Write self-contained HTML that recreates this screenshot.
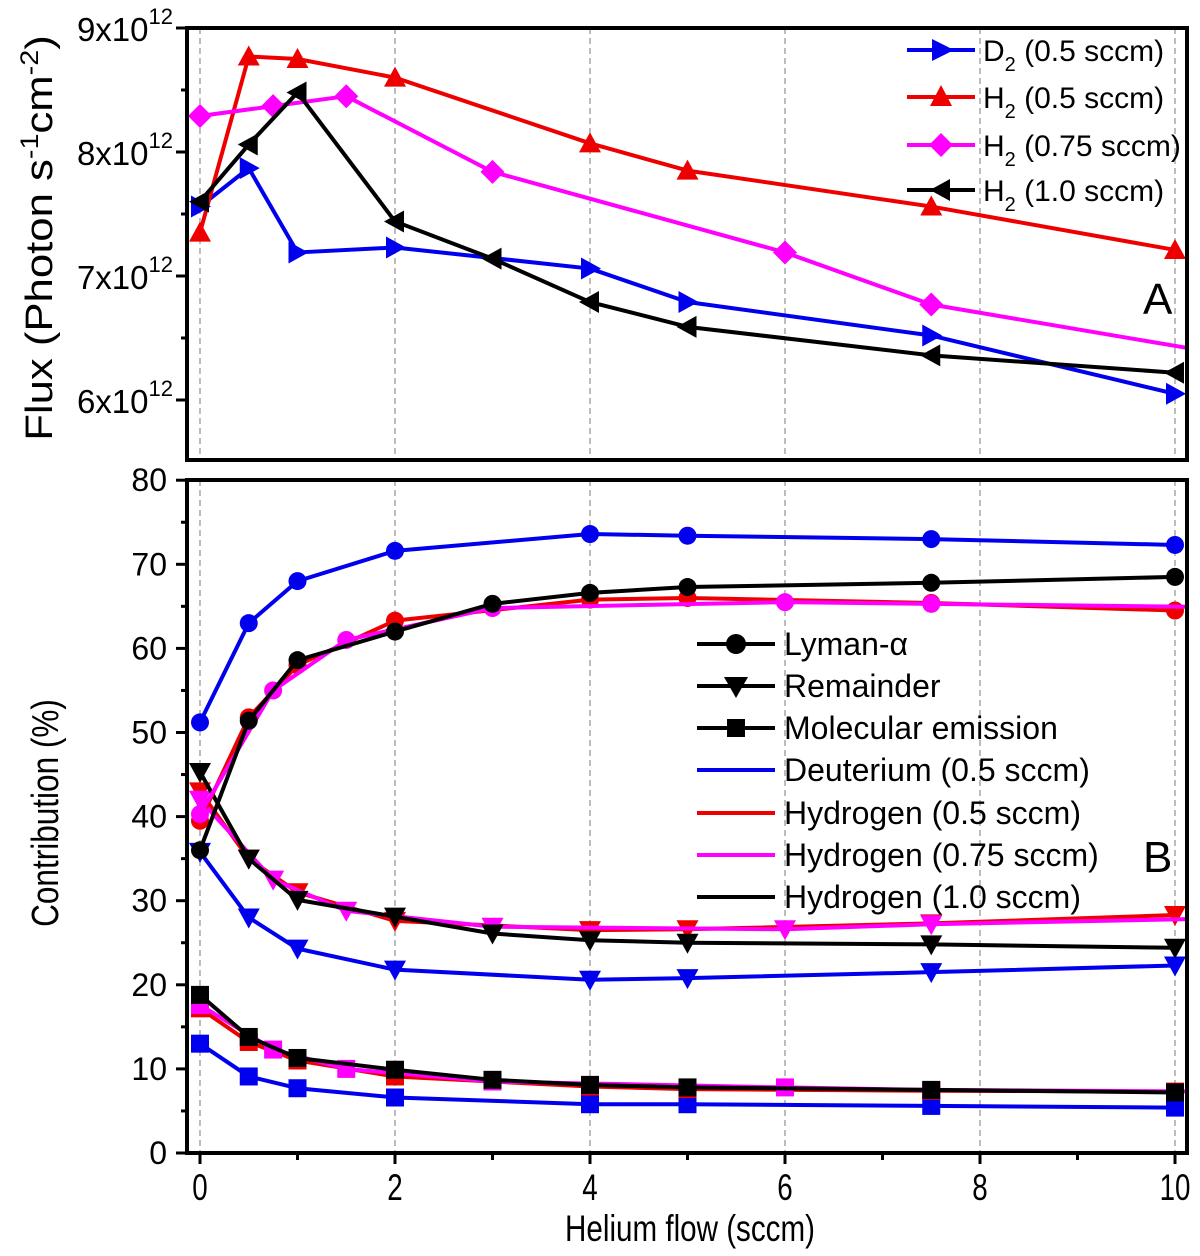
<!DOCTYPE html>
<html><head><meta charset="utf-8"><style>
html,body{margin:0;padding:0;background:#fff;}
svg{display:block;font-family:"Liberation Sans",Arial,sans-serif;}
</style></head><body>
<svg id="chart" width="1200" height="1256" viewBox="0 0 1200 1256" xmlns="http://www.w3.org/2000/svg"></svg>
<script>
// ---- data: top panel (flux, x10^12) ----
const topD2X=[0,0.5,1,2,4,5,7.5,10];
const topD2Y=[7.56,7.87,7.19,7.23,7.06,6.79,6.52,6.05];
const topH05X=[0,0.5,1,2,4,5,7.5,10];
const topH05Y=[7.35,8.77,8.75,8.6,8.07,7.85,7.56,7.21];
const topH075X=[0,0.75,1.5,3,6,7.5,10.5];
const topH075Y=[8.29,8.37,8.45,7.84,7.19,6.77,6.37];
const topH10X=[0,0.5,1,2,3,4,5,7.5,10];
const topH10Y=[7.6,8.06,8.48,7.44,7.14,6.79,6.59,6.36,6.22];
const topTicks=[6,7,8,9];
// ---- data: bottom panel (contribution %) ----
const xA=[0,0.5,1,2,4,5,7.5,10];
const xH10=[0,0.5,1,2,3,4,5,7.5,10];
const xM=[0,0.75,1.5,3,6,7.5,10.5];
const lyD=[51.2,63,68,71.6,73.6,73.4,73,72.3];
const lyH05=[39.5,51.8,58,63.3,65.8,66,65.4,64.5];
const lyH075=[40.3,55,61,64.8,65.5,65.3,64.9];
const lyH10=[36,51.4,58.6,62,65.3,66.6,67.3,67.8,68.5];
const remD=[35.8,28,24.3,21.8,20.6,20.8,21.5,22.3];
const remH05=[43,35,31,27.6,26.5,26.6,27.3,28.3];
const remH075=[42,32.5,28.8,26.9,26.6,27.2,27.9];
const remH10=[45.3,35,30.1,28.1,26.1,25.3,25,24.8,24.4];
const molD=[13,9.1,7.7,6.6,5.8,5.8,5.6,5.4];
const molH05=[17.2,13.2,11,9.1,7.9,7.6,7.4,7.3];
const molH075=[17.6,12.3,10,8.5,7.8,7.5,7.3];
const molH10=[18.8,13.8,11.3,9.9,8.7,8.1,7.8,7.5,7.2];
const botTicks=[0,10,20,30,40,50,60,70,80];
const xTicks=[0,2,4,6,8,10];

const NS="http://www.w3.org/2000/svg";
const svg=document.getElementById('chart');
function el(tag,attrs,parent){const e=document.createElementNS(NS,tag);for(const k in attrs)e.setAttribute(k,attrs[k]);(parent||svg).appendChild(e);return e;}
const X0=187,X1=1187;
const sx=v=>200+v*97.5;
const tyT=v=>28+(9-v)*124;
const tyB=v=>1153-v*8.41;
const PT=[28,460],PB=[480,1153];

const defs=el('defs',{});
const c1=el('clipPath',{id:'clipT'},defs);el('rect',{x:X0,y:PT[0],width:X1-X0,height:PT[1]-PT[0]},c1);
const c2=el('clipPath',{id:'clipB'},defs);el('rect',{x:X0,y:PB[0],width:X1-X0,height:PB[1]-PB[0]},c2);

[PT,PB].forEach((p,i)=>{
  xTicks.forEach(t=>{
    const g=el('line',{x1:sx(t),x2:sx(t),y1:p[0],y2:p[1],stroke:'#999','stroke-width':1.3,'stroke-dasharray':'6,4'});
    
    
  });
});

function marker(g,type,x,y,color){
  const s=11;let m;
  if(type==='circle')m=el('circle',{cx:x,cy:y,r:9,fill:color},g);
  else if(type==='square')m=el('rect',{x:x-9,y:y-9,width:18,height:18,fill:color},g);
  else if(type==='down')m=el('polygon',{points:`${x-s},${y-9} ${x+s},${y-9} ${x},${y+11}`,fill:color},g);
  else if(type==='up')m=el('polygon',{points:`${x-s},${y+9} ${x+s},${y+9} ${x},${y-11}`,fill:color},g);
  else if(type==='right')m=el('polygon',{points:`${x-9},${y-s} ${x-9},${y+s} ${x+11},${y}`,fill:color},g);
  else if(type==='left')m=el('polygon',{points:`${x+9},${y-s} ${x+9},${y+s} ${x-11},${y}`,fill:color},g);
  else if(type==='diamond')m=el('polygon',{points:`${x},${y-12} ${x+12},${y} ${x},${y+12} ${x-12},${y}`,fill:color},g);
  
  
}
function series(name,xs,ys,ymap,color,type,clip){
  const g=el('g',{'clip-path':`url(#${clip})`});
  
  
  const pts=xs.map((x,i)=>sx(x)+','+ymap(ys[i])).join(' ');
  el('polyline',{points:pts,fill:'none',stroke:color,'stroke-width':4,'stroke-linejoin':'round'},g);
  xs.forEach((x,i)=>marker(g,type,sx(x),ymap(ys[i]),color));
}
const B='#0000ee',R='#ee0000',M='#ff00ff',K='#000';
series('d2-flux-series',topD2X,topD2Y,tyT,B,'right','clipT');
series('h2-05-flux-series',topH05X,topH05Y,tyT,R,'up','clipT');
series('h2-075-flux-series',topH075X,topH075Y,tyT,M,'diamond','clipT');
series('h2-10-flux-series',topH10X,topH10Y,tyT,K,'left','clipT');

series('mol-d2-series',xA,molD,tyB,B,'square','clipB');
series('mol-h05-series',xA,molH05,tyB,R,'square','clipB');
series('mol-h075-series',xM,molH075,tyB,M,'square','clipB');
series('mol-h10-series',xH10,molH10,tyB,K,'square','clipB');
series('rem-d2-series',xA,remD,tyB,B,'down','clipB');
series('rem-h05-series',xA,remH05,tyB,R,'down','clipB');
series('rem-h075-series',xM,remH075,tyB,M,'down','clipB');
series('rem-h10-series',xH10,remH10,tyB,K,'down','clipB');
series('ly-d2-series',xA,lyD,tyB,B,'circle','clipB');
series('ly-h05-series',xA,lyH05,tyB,R,'circle','clipB');
series('ly-h075-series',xM,lyH075,tyB,M,'circle','clipB');
series('ly-h10-series',xH10,lyH10,tyB,K,'circle','clipB');

[PT,PB].forEach((p,i)=>{
  const r=el('rect',{x:X0,y:p[0],width:X1-X0,height:p[1]-p[0],fill:'none',stroke:'#000','stroke-width':4});
  
  
});
topTicks.forEach(t=>{
  const y=tyT(t);
  el('line',{x1:X0-11,x2:X0,y1:y,y2:y,stroke:'#000','stroke-width':3});
  const tx=el('text',{x:X0-14,y:y+13,'font-size':33,'text-anchor':'end'});
  
  
  tx.innerHTML=t+'x10<tspan dy="-17" font-size="22">12</tspan>';
});
[6.5,7.5,8.5].forEach(t=>el('line',{x1:X0-6,x2:X0,y1:tyT(t),y2:tyT(t),stroke:'#000','stroke-width':3}));
botTicks.forEach(t=>{
  const y=tyB(t);
  el('line',{x1:X0-11,x2:X0,y1:y,y2:y,stroke:'#000','stroke-width':3});
  const tx=el('text',{x:X0-20,y:y+11,'font-size':32,'text-anchor':'end'});
  
  
  tx.textContent=t;
  if(t<80)el('line',{x1:X0-6,x2:X0,y1:tyB(t+5),y2:tyB(t+5),stroke:'#000','stroke-width':3});
});
xTicks.forEach(t=>{
  el('line',{x1:sx(t),x2:sx(t),y1:1153,y2:1164,stroke:'#000','stroke-width':3});
  if(t<10)el('line',{x1:sx(t+1),x2:sx(t+1),y1:1153,y2:1160,stroke:'#000','stroke-width':3});
  const tx=el('text',{transform:`translate(${sx(t)},1200) scale(0.75,1)`,'font-size':37,'text-anchor':'middle'});
  
  
  tx.textContent=t;
});
</script>
<svg style="position:absolute;left:0;top:0" width="1200" height="1256" xmlns="http://www.w3.org/2000/svg" font-family="Liberation Sans, Arial, sans-serif">
<text transform="translate(690,1241) scale(0.8,1)" font-size="37" text-anchor="middle">Helium flow (sccm)</text>
<text transform="translate(52,238) rotate(-90) scale(1.15,1)" font-size="38" text-anchor="middle">Flux (Photon s<tspan dy="-14" font-size="25">-1</tspan><tspan dy="14">cm</tspan><tspan dy="-14" font-size="25">-2</tspan><tspan dy="14">)</tspan></text>
<text transform="translate(58,813) rotate(-90) scale(0.83,1)" font-size="38" text-anchor="middle">Contribution (%)</text>
<text x="1143" y="314" font-size="44">A</text>
<text x="1143" y="872" font-size="44">B</text>
<g font-size="30">
 <g><line x1="907" x2="975" y1="50" y2="50" stroke="#0000ee" stroke-width="4"/><polygon points="932,39 932,61 954,50" fill="#0000ee"/><text x="983" y="61">D<tspan dy="10" font-size="20">2</tspan><tspan dy="-10"> (0.5 sccm)</tspan></text></g>
 <g><line x1="907" x2="975" y1="97" y2="97" stroke="#ee0000" stroke-width="4"/><polygon points="930,106 952,106 941,85" fill="#ee0000"/><text x="983" y="108">H<tspan dy="10" font-size="20">2</tspan><tspan dy="-10"> (0.5 sccm)</tspan></text></g>
 <g><line x1="907" x2="975" y1="145" y2="145" stroke="#ff00ff" stroke-width="4"/><polygon points="941,133 953,145 941,157 929,145" fill="#ff00ff"/><text x="983" y="156">H<tspan dy="10" font-size="20">2</tspan><tspan dy="-10"> (0.75 sccm)</tspan></text></g>
 <g><line x1="907" x2="975" y1="190" y2="190" stroke="#000" stroke-width="4"/><polygon points="950,179 950,201 930,190" fill="#000"/><text x="983" y="201">H<tspan dy="10" font-size="20">2</tspan><tspan dy="-10"> (1.0 sccm)</tspan></text></g>
</g>
<g font-size="32">
 <g><line x1="697" x2="775" y1="644" y2="644" stroke="#000" stroke-width="4"/><circle cx="736" cy="644" r="10"/><text x="784" y="655">Lyman-α</text></g>
 <g><line x1="697" x2="775" y1="686" y2="686" stroke="#000" stroke-width="4"/><polygon points="724,677 748,677 736,698"/><text x="784" y="697">Remainder</text></g>
 <g><line x1="697" x2="775" y1="728" y2="728" stroke="#000" stroke-width="4"/><rect x="727" y="719" width="18" height="18"/><text x="784" y="739">Molecular emission</text></g>
 <g><line x1="697" x2="775" y1="770" y2="770" stroke="#0000ee" stroke-width="4"/><text x="784" y="781">Deuterium (0.5 sccm)</text></g>
 <g><line x1="697" x2="775" y1="813" y2="813" stroke="#ee0000" stroke-width="4"/><text x="784" y="824">Hydrogen (0.5 sccm)</text></g>
 <g><line x1="697" x2="775" y1="855" y2="855" stroke="#ff00ff" stroke-width="4"/><text x="784" y="866">Hydrogen (0.75 sccm)</text></g>
 <g><line x1="697" x2="775" y1="897" y2="897" stroke="#000" stroke-width="4"/><text x="784" y="908">Hydrogen (1.0 sccm)</text></g>
</g>
</svg>
</body></html>
